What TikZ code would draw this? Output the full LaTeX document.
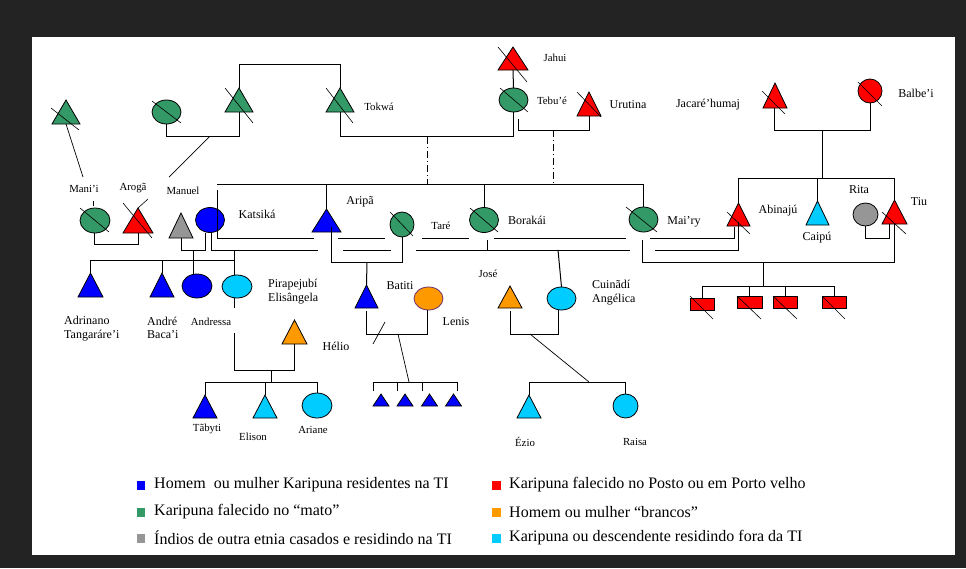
\documentclass[tikz,border=0pt]{standalone}
\usepackage{fontspec}
\setmainfont{Liberation Serif}
\usetikzlibrary{shapes.geometric}
\definecolor{kgreen}{HTML}{339966}
\definecolor{kred}{HTML}{FF0000}
\definecolor{kblue}{HTML}{0000FF}
\definecolor{kgrey}{HTML}{969696}
\definecolor{korange}{HTML}{FF9900}
\definecolor{kcyan}{HTML}{00CCFF}
\definecolor{bgdark}{HTML}{232323}
\definecolor{lenisedge}{HTML}{6B2D6B}
\tikzset{
 slot/.style={rectangle,inner sep=0pt,outer sep=0pt,draw=none},
 ell/.style={ellipse,draw=black,line width=0.8pt,inner sep=0pt,outer sep=0pt},
 outline/.style={draw=black,line width=0.8pt,line join=miter},
 kbox/.style={rectangle,draw=black,fill=kred,line width=0.8pt,inner sep=0pt,outer sep=0pt},
 conn/.style={draw=black,line width=1pt},
 thin/.style={draw=black,line width=0.7pt},
 strike/.style={draw=black,line width=0.6pt},
 dashdot/.style={draw=black,line width=1pt,dash pattern=on 7pt off 3pt on 1pt off 3pt},
 lbl/.style={inner sep=0pt,font=\fontsize{10.8}{12}\selectfont},
 lblb/.style={inner sep=0pt,font=\fontsize{12}{13.5}\selectfont},
 lbltwo/.style={inner sep=0pt,anchor=west,align=left,font=\fontsize{12}{13.5}\selectfont},
 legtxt/.style={inner sep=0pt,anchor=west,font=\fontsize{16}{18}\selectfont},
 legsq/.style={rectangle,inner sep=0pt,outer sep=0pt,minimum width=8.5pt,minimum height=9pt},
}
\newcommand\Tri[6]{\node[slot,minimum width=#4pt,minimum height=#5pt] (#1) at (#2,#3) {};
 \filldraw[fill=#6,outline] (#1.north) -- (#1.south east) -- (#1.south west) -- cycle;}
\newcommand\Ell[6]{\node[ell,minimum width=#4pt,minimum height=#5pt,fill=#6] (#1) at (#2,#3) {};}
\begin{document}
\begin{tikzpicture}[x=1pt,y=-1pt]
\useasboundingbox (0,0) rectangle (966,568);
\fill[bgdark] (0,0) rectangle (966,568);
\fill[white] (32,37) rectangle (955,555);

% ---------- persons ----------
\Tri{tmani}{66}{112}{28}{24}{kgreen}
\Ell{egm}{166.5}{112}{29}{24}{kgreen}
\Tri{tgf}{239}{100}{28}{24}{kgreen}
\Tri{tokwa}{340}{100}{28}{24}{kgreen}
\Tri{jahui}{513}{58.5}{30}{23}{kred}
\Ell{tebue}{513.5}{100}{29}{24}{kgreen}
\Tri{urutina}{589}{104}{24}{24}{kred}
\Tri{jacare}{775}{95.5}{24}{25}{kred}
\Ell{balbei}{870}{91}{24}{24}{kred}
\Ell{mani}{95}{220.5}{30}{25}{kgreen}
\Tri{aroga}{138}{220.5}{30}{25}{kred}
\Tri{manuel}{181}{225.5}{24}{25}{kgrey}
\Ell{katsika}{210}{220}{29}{25}{kblue}
\Tri{aripa}{326.5}{220.5}{29}{23}{kblue}
\Ell{tare}{402}{224.5}{24}{25}{kgreen}
\Ell{borakai}{484}{220}{29}{25}{kgreen}
\Ell{mairy}{643.5}{219.5}{29}{25}{kgreen}
\Tri{abinaju}{738.5}{214.5}{23}{23}{kred}
\Tri{caipu}{817.5}{213}{23}{24}{kcyan}
\Ell{rita}{865.5}{214.5}{25}{23}{kgrey}
\Tri{tiu}{894.5}{212}{25}{24}{kred}
\Tri{adrinano}{90.5}{285}{25}{24}{kblue}
\Tri{andre}{162}{285}{24}{24}{kblue}
\Ell{andressa}{197}{286}{30}{24}{kblue}
\Ell{pira}{237}{286.5}{30}{23}{kcyan}
\Tri{helio}{294.5}{332}{25}{24}{korange}
\Tri{batiti}{366.5}{296.5}{23}{23}{kblue}
\node[ell,draw=lenisedge,minimum width=29pt,minimum height=23pt,fill=korange] (lenis) at (428.5,298.5) {};
\Tri{jose}{510}{297}{24}{22}{korange}
\Ell{cuinadi}{561.5}{298.5}{29}{23}{kcyan}
\Tri{tabyti}{205}{406.5}{24}{23}{kblue}
\Tri{elison}{265}{406.5}{24}{23}{kcyan}
\Ell{ariane}{317}{405.5}{30}{25}{kcyan}
\Tri{ezio}{529}{406.5}{24}{23}{kcyan}
\Ell{raisa}{625.5}{406}{25}{24}{kcyan}
\Tri{s1}{381}{400}{16}{12}{kblue}
\Tri{s2}{405}{400}{16}{12}{kblue}
\Tri{s3}{429.5}{400}{16}{12}{kblue}
\Tri{s4}{453.5}{400}{16}{12}{kblue}
\node[kbox,minimum width=24pt,minimum height=12pt] (c1) at (702,304) {};
\node[kbox,minimum width=25pt,minimum height=12pt] (c2) at (749.5,302) {};
\node[kbox,minimum width=24pt,minimum height=12pt] (c3) at (785,302) {};
\node[kbox,minimum width=24pt,minimum height=12pt] (c4) at (834,302) {};

% ---------- strikes (deceased) ----------
\draw[strike] (51,108) -- (79,130);
\draw[strike] (152,101) -- (181,123);
\draw[strike] (225,88) -- (253,123);
\draw[strike] (326,88) -- (353,123);
\draw[strike] (498,47) -- (527,82);
\draw[strike] (500,88) -- (528,112);
\draw[strike] (577,92) -- (601,117);
\draw[strike] (762,91) -- (785,114);
\draw[strike] (858,82) -- (882,106);
\draw[strike] (80,208) -- (109,232);
\draw[strike] (93,201) -- (93,206);
\draw[strike] (123,203) -- (152,238);
\draw[strike] (138,208) -- (148,199);
\draw[strike] (390,212) -- (413,236);
\draw[strike] (470,208) -- (498,232);
\draw[strike] (626,207) -- (657,232);
\draw[strike] (727,212) -- (750,234);
\draw[strike] (882,212) -- (906,234);
\draw[strike] (690,296) -- (713,319);
\draw[strike] (737,296) -- (761,319);
\draw[strike] (773,296) -- (797,319);
\draw[strike] (822,296) -- (845,319);

% ---------- connectors ----------
\draw[thin] (tmani.south) -- (83,177);
\draw[conn] (egm.south) -- (166.5,136) -- (239,136) -- (tgf.south);
\draw[thin] (210,136) -- (169,177);
\draw[conn] (tgf.north) -- (239,64) -- (340,64) -- (tokwa.north);
\draw[conn] (tokwa.south) -- (340,136) -- (513.5,136) -- (tebue.south);
\draw[conn] (jahui.south) -- (tebue.north);
\draw[conn] (518,119) -- (518,130) -- (589,130) -- (urutina.south);
\draw[dashdot] (427,137) -- (427,184);
\draw[dashdot] (553,130) -- (553,184);
\draw[conn] (217,184) -- (643.5,184) -- (mairy.north);
\draw[conn] (326.5,184) -- (aripa.north);
\draw[conn] (484,184) -- (borakai.north);
\draw[conn] (217,190) -- (217,238) -- (314,238);
\draw[conn] (manuel.south) -- (181,250) -- (205,250) -- (205,232.5);
\draw[conn] (211,232.5) -- (211,250) -- (318,250);
\draw[conn] (193,250) -- (193,274);
\draw[conn] (90.5,260) -- (234,260);
\draw[conn] (90.5,260) -- (adrinano.north);
\draw[conn] (162,260) -- (andre.north);
\draw[conn] (234,250) -- (234,275);
\draw[conn] (94,233) -- (94,244) -- (138,244) -- (aroga.south);
\draw[conn] (331,227) -- (331,262) -- (402,262) -- (tare.south);
\draw[conn] (367,262) -- (batiti.north);
\draw[conn] (338,238) -- (385,238);
\draw[conn] (422,238) -- (469,238);
\draw[conn] (494,238) -- (626,238);
\draw[conn] (650,238) -- (734,238) -- (734,227);
\draw[conn] (343,250) -- (391,250);
\draw[conn] (416,250) -- (630,250);
\draw[conn] (655,250) -- (738,250) -- (738,222);
\draw[conn] (487,240) -- (487,250);
\draw[conn] (558,250) -- (cuinadi.north);
\draw[conn] (642,240) -- (642,262) -- (894.5,262) -- (894.5,224);
\draw[conn] (763,262) -- (763,286);
\draw[conn] (702,286) -- (834,286);
\draw[conn] (702,286) -- (c1.north);
\draw[conn] (749.5,286) -- (c2.north);
\draw[conn] (785,286) -- (c3.north);
\draw[conn] (834,286) -- (c4.north);
\draw[conn] (774,108) -- (774,130) -- (870,130) -- (balbei.south);
\draw[conn] (822,130) -- (822,178);
\draw[conn] (738.5,178) -- (894.5,178);
\draw[conn] (738.5,178) -- (abinaju.north);
\draw[conn] (817.5,178) -- (caipu.north);
\draw[conn] (894.5,178) -- (tiu.north);
\draw[conn] (rita.south) -- (865.5,238) -- (889,238) -- (889,224);
\draw[conn] (234,298) -- (234,308);
\draw[conn] (234,333) -- (234,370) -- (294.5,370) -- (helio.south);
\draw[conn] (271,370) -- (271,382);
\draw[conn] (205,382) -- (318,382);
\draw[conn] (205,382) -- (tabyti.north);
\draw[conn] (265,382) -- (elison.north);
\draw[conn] (317,382) -- (ariane.north);
\draw[conn] (366.5,311) -- (366.5,334) -- (427,334) -- (427,310);
\draw[thin] (373,344) -- (385,322);
\draw[thin] (398,334) -- (409,382);
\draw[conn] (373,382) -- (457,382);
\draw[conn] (373,382) -- (373,391);
\draw[conn] (397,382) -- (397,391);
\draw[conn] (422,382) -- (422,391);
\draw[conn] (457,382) -- (457,391);
\draw[conn] (510,311) -- (510,334) -- (558,334) -- (558,310);
\draw[thin] (530,334) -- (589,382);
\draw[conn] (529,382) -- (626,382);
\draw[conn] (529,382) -- (ezio.north);
\draw[conn] (625.5,382) -- (raisa.north);

% ---------- labels ----------
\node[lbl] (lmani) at (84,189) {Mani’i};
\node[lbl] (laroga) at (133,188) {Arogã};
\node[lbl] (lmanuel) at (183,191) {Manuel};
\node[lbl] (ltokwa) at (379,107) {Tokwá};
\node[lbl] (ljahui) at (555,58) {Jahui};
\node[lbl] (ltebue) at (552,101) {Tebu’é};
\node[lbl] (ltare) at (441,226) {Taré};
\node[lbl] (ljose) at (488,274) {José};
\node[lbl] (landressa) at (211,322) {Andressa};
\node[lbl] (ltabyti) at (207,429) {Tãbyti};
\node[lbl] (lelison) at (253,437) {Elison};
\node[lbl] (lariane) at (313,430) {Ariane};
\node[lbl] (lezio) at (525,442) {Ézio};
\node[lbl] (lraisa) at (635,442) {Raisa};
\node[lblb] (lkatsika) at (257,214) {Katsiká};
\node[lblb] (laripa) at (360,202) {Aripã};
\node[lblb] (lborakai) at (527,220) {Borakái};
\node[lblb] (lmairy) at (684,222) {Mai’ry};
\node[lblb] (lurutina) at (628,105) {Urutina};
\node[lblb] (ljacare) at (708,105) {Jacaré’humaj};
\node[lblb] (lbalbei) at (916,93) {Balbe’i};
\node[lblb] (labinaju) at (778,211) {Abinajú};
\node[lblb] (lcaipu) at (817,238) {Caipú};
\node[lblb] (lrita) at (859,190) {Rita};
\node[lblb] (ltiu) at (919,202) {Tiu};
\node[lblb] (lbatiti) at (400,286) {Batiti};
\node[lblb] (llenis) at (456,322) {Lenis};
\node[lblb] (lhelio) at (336,346) {Hélio};
\node[lbltwo] (lpira) at (268,291.5) {Pirapejubí\\Elisângela};
\node[lbltwo] (ladrinano) at (64,328.5) {Adrinano\\Tangaráre’i};
\node[lbltwo] (landre) at (147,328) {André\\Baca’i};
\node[lbltwo] (lcuinadi) at (592,292.5) {Cuinãdí\\Angélica};

% ---------- legend ----------
\node[legsq,fill=kblue] (q1) at (141,485) {};
\node[legsq,fill=kgreen] (q2) at (141,512) {};
\node[legsq,fill=kgrey] (q3) at (141,538) {};
\node[legsq,fill=kred] (q4) at (496.5,485) {};
\node[legsq,fill=korange] (q5) at (496.5,512) {};
\node[legsq,fill=kcyan] (q6) at (496.5,538) {};
\node[legtxt] (t1) at (154,485) {Homem\ \ ou mulher Karipuna residentes na TI};
\node[legtxt] (t2) at (154,512) {Karipuna falecido no “mato”};
\node[legtxt] (t3) at (154,538) {Índios de outra etnia casados e residindo na TI};
\node[legtxt] (t4) at (509,485) {Karipuna falecido no Posto ou em Porto velho};
\node[legtxt] (t5) at (509,512) {Homem ou mulher “brancos”};
\node[legtxt] (t6) at (509,538) {Karipuna ou descendente residindo fora da TI};
\end{tikzpicture}
\end{document}
